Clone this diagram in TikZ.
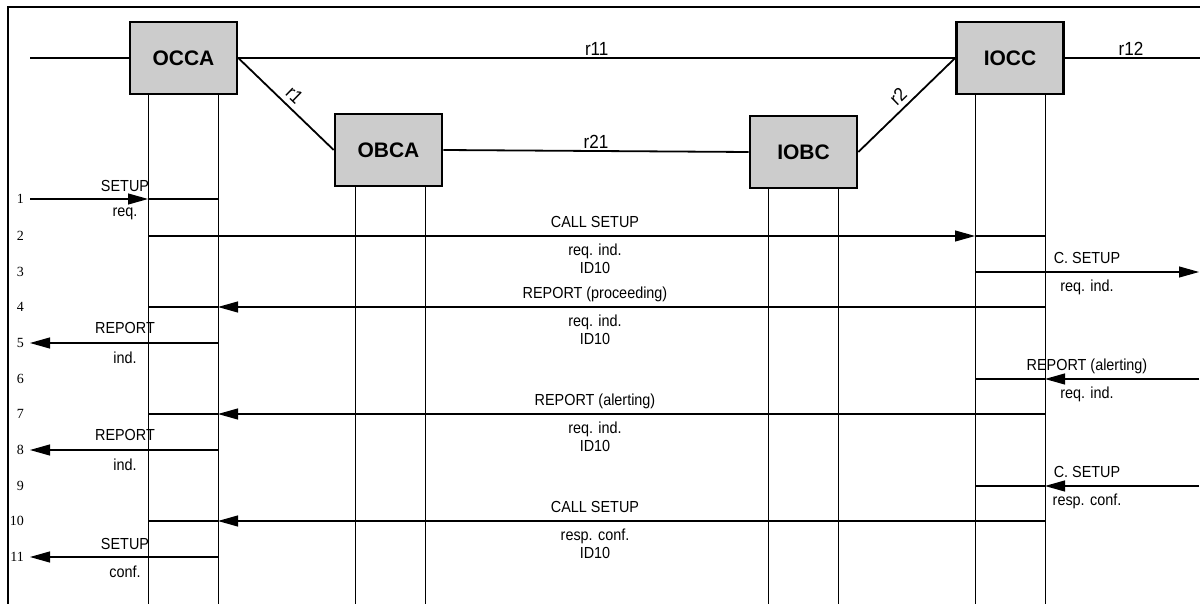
\documentclass[tikz,border=0pt]{standalone}
\usepackage{fontspec}
\setmainfont{Liberation Sans}
\newfontfamily\lblfont[FakeStretch=0.9]{Liberation Sans}
\newfontfamily\numfont{Liberation Serif}
\usetikzlibrary{arrows.meta,calc}
\tikzset{
  box/.style={draw,line width=2.6pt,fill=black!20,minimum width=107pt,minimum height=72pt,inner sep=0pt,font=\bfseries\fontsize{21}{21}\selectfont},
  link/.style={line width=1.8pt},
  life/.style={line width=1pt},
  msg/.style={line width=1.1pt},
  tip/.style={-{Triangle[length=20pt,width=11pt]}},
  lbl/.style={inner sep=0pt,font=\lblfont\fontsize{16}{16}\selectfont},
  rlbl/.style={inner sep=2pt,font=\lblfont\fontsize{19}{19}\selectfont},
  num/.style={anchor=east,inner sep=0pt,font=\numfont\fontsize{14}{14}\selectfont},
  frame/.style={line width=1.2pt}
}
\begin{document}
\begin{tikzpicture}[x=1pt,y=-1pt]
\useasboundingbox (0,0) rectangle (1200,604);
% frame
\coordinate (fTL) at (8,7);
\coordinate (fTR) at (1200,7);
\coordinate (fBL) at (8,604);
\draw[frame] (fTR) -- (fTL) -- (fBL);
% boxes
\node[box] (OCCA) at (183.5,58) {OCCA};
\node[box] (OBCA) at (388.5,150) {OBCA};
\node[box] (IOBC) at (803.5,152) {IOBC};
\node[box] (IOCC) at (1010,58) {IOCC};
% links
\coordinate (lend) at (30,58);
\coordinate (rend) at (1200,58);
\draw[link] (lend) -- (OCCA.west);
\draw[line width=1.4pt] (OCCA.east) -- node[rlbl,above,pos=0.5]{r11} (IOCC.west);
\draw[link] (IOCC.east) -- node[rlbl,above,pos=0.49]{r12} (rend);
\draw[link] (OCCA.east) -- node[rlbl,sloped,above,inner sep=5pt]{r1} (OBCA.west);
\draw[link] (IOBC.east) -- node[rlbl,sloped,above,inner sep=5pt]{r2} (IOCC.west);
\draw[link] (OBCA.east) -- node[rlbl,above]{r21} (IOBC.west);
% lifelines
\coordinate (bot) at (0,604);
\coordinate (aL) at (148,94);
\coordinate (aR) at (218,94);
\coordinate (bL) at (355,186);
\coordinate (bR) at (425,186);
\coordinate (cL) at (768,188);
\coordinate (cR) at (838,188);
\coordinate (dL) at (975,95);
\coordinate (dR) at (1045,95);
\foreach \c in {aL,aR,bL,bR,cL,cR,dL,dR}{\draw[life] (\c) -- (\c |- bot);}
% x positions
\coordinate (xL) at (30,0);
\coordinate (xE) at (1199,0);
\coordinate (xLt) at (125,0);
\coordinate (xM) at (595,0);
\coordinate (xRt) at (1087,0);
\coordinate (xN) at (24,0);
% rows
\coordinate (y1) at (0,199);
\coordinate (y2) at (0,236);
\coordinate (y3) at (0,272);
\coordinate (y4) at (0,307);
\coordinate (y5) at (0,343);
\coordinate (y6) at (0,379);
\coordinate (y7) at (0,414);
\coordinate (y8) at (0,450);
\coordinate (y9) at (0,486);
\coordinate (y10) at (0,521);
\coordinate (y11) at (0,557);
% row numbers
\foreach \i in {1,...,11}{\node[num] (n\i) at (xN |- y\i) {\i};}
% 1
\draw[msg,tip] (xL |- y1) -- (aL |- y1);
\draw[msg] (aL |- y1) -- (aR |- y1);
\node[lbl,yshift=13pt] (l1a) at (xLt |- y1) {SETUP};
\node[lbl,yshift=-15pt] (l1b) at (xLt |- y1) {req.};
% 2
\draw[msg,tip] (aL |- y2) -- (dL |- y2);
\draw[msg] (dL |- y2) -- (dR |- y2);
\node[lbl,yshift=14pt] (l2a) at (xM |- y2) {CALL SETUP};
\node[lbl,yshift=-15pt] (l2b) at (xM |- y2) {req. ind.};
\node[lbl,yshift=-32pt] (l2c) at (xM |- y2) {ID10};
% 3
\draw[msg,tip] (dL |- y3) -- (xE |- y3);
\node[lbl,yshift=14pt] (l3a) at (xRt |- y3) {C. SETUP};
\node[lbl,yshift=-15pt] (l3b) at (xRt |- y3) {req. ind.};
% 4
\draw[msg,tip] (dR |- y4) -- (aR |- y4);
\draw[msg] (aR |- y4) -- (aL |- y4);
\node[lbl,yshift=13pt] (l4a) at (xM |- y4) {REPORT (proceeding)};
\node[lbl,yshift=-15pt] (l4b) at (xM |- y4) {req. ind.};
\node[lbl,yshift=-32pt] (l4c) at (xM |- y4) {ID10};
% 5
\draw[msg,tip] (aR |- y5) -- (xL |- y5);
\node[lbl,yshift=15pt] (l5a) at (xLt |- y5) {REPORT};
\node[lbl,yshift=-15pt] (l5b) at (xLt |- y5) {ind.};
% 6
\draw[msg,tip] (xE |- y6) -- (dR |- y6);
\draw[msg] (dR |- y6) -- (dL |- y6);
\node[lbl,yshift=13pt] (l6a) at (xRt |- y6) {REPORT (alerting)};
\node[lbl,yshift=-15pt] (l6b) at (xRt |- y6) {req. ind.};
% 7
\draw[msg,tip] (dR |- y7) -- (aR |- y7);
\draw[msg] (aR |- y7) -- (aL |- y7);
\node[lbl,yshift=13pt] (l7a) at (xM |- y7) {REPORT (alerting)};
\node[lbl,yshift=-15pt] (l7b) at (xM |- y7) {req. ind.};
\node[lbl,yshift=-32pt] (l7c) at (xM |- y7) {ID10};
% 8
\draw[msg,tip] (aR |- y8) -- (xL |- y8);
\node[lbl,yshift=15pt] (l8a) at (xLt |- y8) {REPORT};
\node[lbl,yshift=-15pt] (l8b) at (xLt |- y8) {ind.};
% 9
\draw[msg,tip] (xE |- y9) -- (dR |- y9);
\draw[msg] (dR |- y9) -- (dL |- y9);
\node[lbl,yshift=14pt] (l9a) at (xRt |- y9) {C. SETUP};
\node[lbl,yshift=-15pt] (l9b) at (xRt |- y9) {resp. conf.};
% 10
\draw[msg,tip] (dR |- y10) -- (aR |- y10);
\draw[msg] (aR |- y10) -- (aL |- y10);
\node[lbl,yshift=14pt] (l10a) at (xM |- y10) {CALL SETUP};
\node[lbl,yshift=-15pt] (l10b) at (xM |- y10) {resp. conf.};
\node[lbl,yshift=-32pt] (l10c) at (xM |- y10) {ID10};
% 11
\draw[msg,tip] (aR |- y11) -- (xL |- y11);
\node[lbl,yshift=13pt] (l11a) at (xLt |- y11) {SETUP};
\node[lbl,yshift=-15pt] (l11b) at (xLt |- y11) {conf.};
\end{tikzpicture}
\end{document}
